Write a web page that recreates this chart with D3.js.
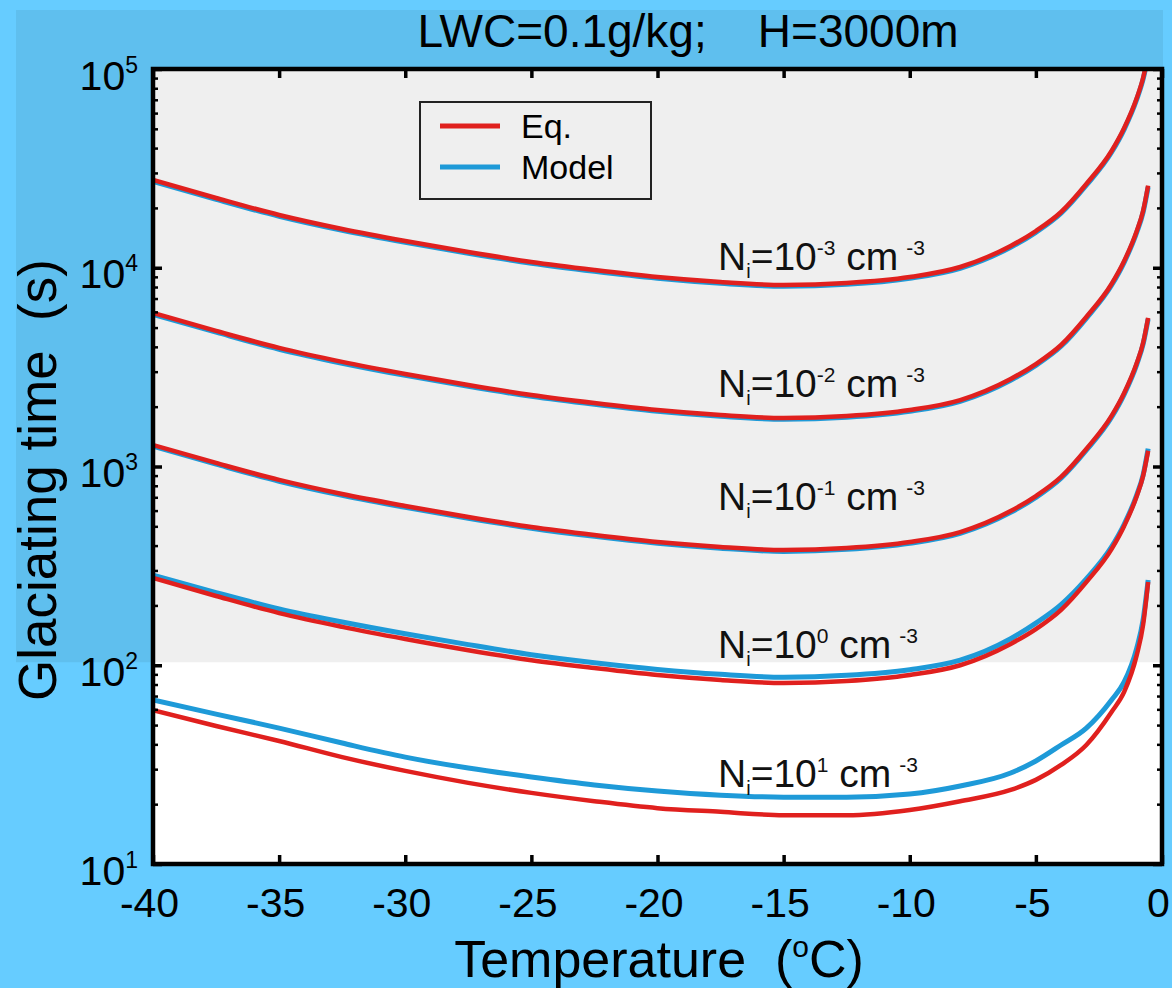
<!DOCTYPE html>
<html>
<head>
<meta charset="utf-8">
<script src="https://cdn.jsdelivr.net/npm/d3@7"></script>
<style>
  html, body { margin: 0; padding: 0; background: #66CCFF; }
  svg { display: block; font-family: "Liberation Sans", Arial, Helvetica, sans-serif; }
</style>
</head>
<body>
<svg id="chart" width="1172" height="988"></svg>
<script>
// Temperature grid (°C)
const temperatures = [-40, -37.5, -35, -32.5, -30, -27.5, -25, -22.5, -20, -17.5, -15, -12.5,
                      -10, -8, -6, -5, -4, -3, -2, -1.5, -1, -0.75, -0.55];

// Ice number concentration exponents, Ni = 10^k cm^-3
const niExponents = ["-3", "-2", "-1", "0", "1"];

// Glaciating time (s), analytical equation
const eqNm3 = [27640, 22440, 18430, 15670, 13630, 12000, 10690, 9740, 8980, 8480, 8190, 8380,
               8980, 10090, 12870, 15300, 19080, 26390, 38680, 50480, 71460, 90100, 117600];
const eqNm2 = [5920, 4810, 3950, 3360, 2920, 2570, 2290, 2086, 1924, 1816, 1754, 1795,
               1924, 2160, 2757, 3277, 4087, 5653, 8285, 10810, 15310, 19300, 25900];
const eqNm1 = [1283, 1042, 856, 727, 633, 557, 496, 452, 417, 394, 380, 389,
               417, 468, 597, 710, 886, 1225, 1796, 2343, 3317, 4182, 5600];
const eqN0  = [275, 223, 183, 156, 135.5, 119, 106, 96.8, 89.3, 84.3, 81.4, 83.3,
               89.3, 100, 128, 152, 190, 262, 384, 502, 710, 896, 1200];
const eqN1  = [59.5, 49.5, 41.6, 34.5, 29.4, 25.6, 22.8, 20.7, 19.1, 18.3, 17.6, 17.6,
               18.7, 20.7, 23.6, 26.5, 31.5, 39.7, 58.2, 73.4, 112.6, 159.4, 262.4];

// Glaciating time (s), parcel model
const modelNm3 = [27200, 22100, 18150, 15430, 13420, 11820, 10530, 9590, 8850, 8350, 8070, 8250,
                  8850, 9940, 12680, 15070, 18800, 26000, 38100, 49720, 70400, 88800, 116000];
const modelNm2 = [5830, 4740, 3890, 3310, 2875, 2530, 2255, 2055, 1895, 1789, 1728, 1768,
                  1895, 2128, 2716, 3228, 4026, 5568, 8160, 10650, 15080, 19010, 25500];
const modelNm1 = [1265, 1027, 843, 716, 623, 549, 489, 445, 411, 388, 374, 383,
                  411, 461, 588, 699, 873, 1207, 1769, 2308, 3267, 4120, 5520];
const modelN0  = [284, 232, 192, 165, 144, 127, 113, 103, 95.3, 90, 87, 89,
                  95, 106, 136, 163, 202, 272, 394, 512, 720, 905, 1230];
const modelN1  = [66.9, 56.8, 48.3, 40.6, 34.5, 30.4, 27.4, 25.0, 23.3, 22.2, 21.7, 21.7,
                  22.5, 24.7, 28.7, 33.0, 39.7, 48.3, 66.9, 82.4, 122.1, 169, 268.5];

const eqSeries = [eqNm3, eqNm2, eqNm1, eqN0, eqN1];
const modelSeries = [modelNm3, modelNm2, modelNm1, modelN0, modelN1];

// Curve label anchors in data units (temperature, time)
const labelTemps = [-17.6, -17.6, -17.6, -17.6, -17.6];
const labelTimes = [9740, 2240, 605, 109, 24.4];

// Axis ticks
const xTicks = [-40, -35, -30, -25, -20, -15, -10, -5, 0];
const yTicks = [10, 100, 1000, 10000, 100000];
const yTickExponents = ["1", "2", "3", "4", "5"];

const legendNames = ["Eq.", "Model"];
const titleText = "LWC=0.1g/kg;    H=3000m";
const xTitle = "Temperature  (";
const yTitle = "Glaciating time  (s)";

// ---- layout ----
const W = 1172, H = 988;
const pLeft = 153, pRight = 1162, pTop = 69, pBottom = 864;
const RED = "#E0201E", BLUE = "#1E9AD8";

const svg = d3.select("#chart");
const x = d3.scaleLinear().domain([-40, 0]).range([pLeft, pRight]);
const y = d3.scaleLog().domain([10, 1e5]).range([pBottom, pTop]);

// backgrounds
svg.append("rect").attr("width", W).attr("height", H).attr("fill", "#66CCFF");
svg.append("rect").attr("x", 16).attr("y", 10)
   .attr("width", pRight + 1 - 16).attr("height", y(100) - 3 - 10)
   .attr("fill", "#5FBFEE");
svg.append("rect").attr("x", pLeft).attr("y", pTop)
   .attr("width", pRight - pLeft).attr("height", pBottom - pTop).attr("fill", "#FFFFFF");
svg.append("rect").attr("x", pLeft).attr("y", pTop)
   .attr("width", pRight - pLeft).attr("height", y(100) - 3 - pTop).attr("fill", "#EFEFEF");

// title
svg.append("text").attr("x", 688).attr("y", 47).attr("text-anchor", "middle")
   .attr("font-size", 46).style("white-space", "pre").attr("fill", "#000")
   .text(titleText);

// curves
svg.append("clipPath").attr("id", "plotClip").append("rect")
   .attr("x", pLeft).attr("y", pTop).attr("width", pRight - pLeft).attr("height", pBottom - pTop);
const plot = svg.append("g").attr("clip-path", "url(#plotClip)");
const line = d3.line()
  .x((d, i) => x(temperatures[i]))
  .y(d => y(d))
  .curve(d3.curveMonotoneX);

modelSeries.forEach(s => {
  plot.append("path").attr("d", line(s)).attr("fill", "none")
      .attr("stroke", BLUE).attr("stroke-width", 5).attr("stroke-linejoin", "round");
});
eqSeries.forEach(s => {
  plot.append("path").attr("d", line(s)).attr("fill", "none")
      .attr("stroke", RED).attr("stroke-width", 4.5).attr("stroke-linejoin", "round");
});

// curve labels: N_i=10^k cm^-3
niExponents.forEach((k, i) => {
  const t = svg.append("text")
    .attr("x", x(labelTemps[i])).attr("y", y(labelTimes[i]))
    .attr("font-size", 39).attr("fill", "#111");
  t.append("tspan").text("N");
  t.append("tspan").attr("font-size", 20).attr("dy", 8).text("i");
  t.append("tspan").attr("dy", -8).text("=10");
  t.append("tspan").attr("font-size", 21).attr("dy", -15).text(k);
  t.append("tspan").attr("dy", 15).style("white-space", "pre").text(" cm");
  t.append("tspan").attr("font-size", 21).attr("dx", 8).attr("dy", -15).text("-3");
});

// axes
const axisG = svg.append("g");
const styleTicks = (g, w) => {
  g.select(".domain").remove();
  g.selectAll(".tick line").attr("stroke", "#000").attr("stroke-width", w);
};

// bottom
axisG.append("g").attr("transform", `translate(0,${pBottom})`)
  .call(d3.axisBottom(x).tickValues(xTicks).tickSizeInner(-9).tickSizeOuter(0)
        .tickPadding(24).tickFormat(d3.format("d")))
  .call(g => styleTicks(g, 3.5))
  .call(g => g.selectAll(".tick text").attr("font-size", 41).attr("fill", "#000")
              .attr("font-family", "Liberation Sans, Arial, sans-serif").attr("dx", -4)
              .text(d => d === 0 ? "0" : String(d)));
// top
axisG.append("g").attr("transform", `translate(0,${pTop})`)
  .call(d3.axisTop(x).tickValues(xTicks).tickSizeInner(-9).tickSizeOuter(0).tickFormat(""))
  .call(g => styleTicks(g, 3.5));

// y minor ticks
const minorVals = [];
[10, 100, 1000, 10000].forEach(dec => { for (let m = 2; m <= 9; m++) minorVals.push(dec * m); });
axisG.append("g").attr("transform", `translate(${pLeft},0)`)
  .call(d3.axisLeft(y).tickValues(minorVals).tickSizeInner(-5).tickSizeOuter(0).tickFormat(""))
  .call(g => styleTicks(g, 2.5));
axisG.append("g").attr("transform", `translate(${pRight},0)`)
  .call(d3.axisRight(y).tickValues(minorVals).tickSizeInner(-5).tickSizeOuter(0).tickFormat(""))
  .call(g => styleTicks(g, 2.5));

// y major ticks + labels
axisG.append("g").attr("transform", `translate(${pLeft},0)`)
  .call(d3.axisLeft(y).tickValues(yTicks).tickSizeInner(-9).tickSizeOuter(0).tickPadding(15))
  .call(g => styleTicks(g, 3.5))
  .call(g => g.selectAll(".tick text")
    .attr("font-size", 41).attr("fill", "#000").attr("dy", 20)
    .attr("font-family", "Liberation Sans, Arial, sans-serif")
    .text(null)
    .each(function(d, i) {
      const t = d3.select(this);
      t.append("tspan").text("10");
      t.append("tspan").attr("font-size", 23).attr("dy", -17).text(yTickExponents[i]);
    }));
axisG.append("g").attr("transform", `translate(${pRight},0)`)
  .call(d3.axisRight(y).tickValues(yTicks).tickSizeInner(-9).tickSizeOuter(0).tickFormat(""))
  .call(g => styleTicks(g, 3.5));

// frame
svg.append("rect").attr("x", pLeft).attr("y", pTop)
   .attr("width", pRight - pLeft).attr("height", pBottom - pTop)
   .attr("fill", "none").attr("stroke", "#000").attr("stroke-width", 4.5);

// axis titles
const xt = svg.append("text").attr("x", 659).attr("y", 977).attr("text-anchor", "middle")
  .attr("font-size", 52).attr("fill", "#000").style("white-space", "pre");
xt.append("tspan").text(xTitle);
xt.append("tspan").attr("font-size", 30).attr("dy", -20).text("o");
xt.append("tspan").attr("dy", 20).text("C)");

svg.append("text")
  .attr("transform", "translate(56,480) rotate(-90)")
  .attr("text-anchor", "middle").attr("font-size", 53).attr("fill", "#000")
  .style("white-space", "pre").text(yTitle);

// legend
const leg = svg.append("g");
leg.append("rect").attr("x", 420).attr("y", 102).attr("width", 231).attr("height", 97)
   .attr("fill", "none").attr("stroke", "#222").attr("stroke-width", 2);
[RED, BLUE].forEach((c, i) => {
  const ly = 126 + i * 41;
  leg.append("line").attr("x1", 440).attr("x2", 500).attr("y1", ly).attr("y2", ly)
     .attr("stroke", c).attr("stroke-width", 5);
  leg.append("text").attr("x", 521).attr("y", ly + 12).attr("font-size", 34)
     .attr("fill", "#000").text(legendNames[i]);
});
</script>
</body>
</html>
